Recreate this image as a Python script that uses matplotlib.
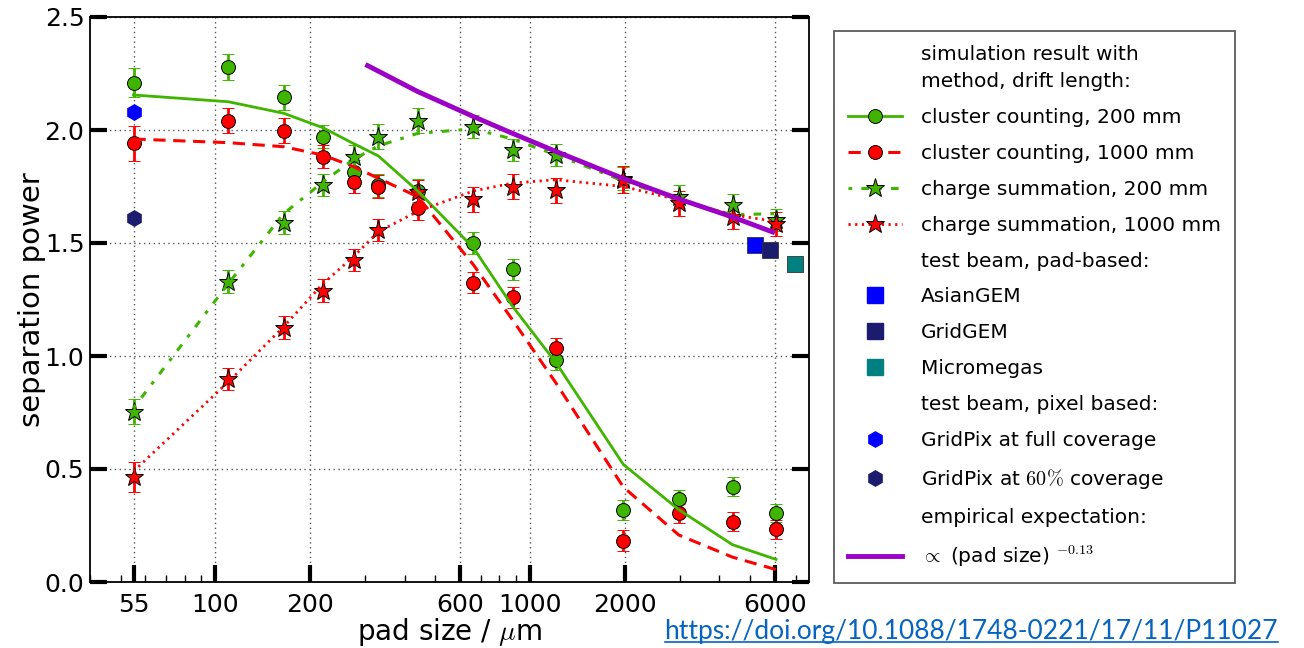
import matplotlib
matplotlib.use("Agg")
import matplotlib.pyplot as plt
from matplotlib.lines import Line2D
from matplotlib.ticker import FixedLocator, FixedFormatter, LogLocator, NullFormatter

plt.rcParams['font.family'] = 'DejaVu Sans'
plt.rcParams['mathtext.fontset'] = 'cm'

# pad sizes in um
pad = [55, 110, 165, 220, 275, 330, 440, 660, 880, 1210, 1980, 2970, 4400, 6050]

# simulated separation power with uncertainties
cc200 = [2.21, 2.28, 2.145, 1.97, 1.816, 1.755, 1.731, 1.499, 1.384, 0.982, 0.319, 0.366, 0.422, 0.304]
cc200_err = [0.065, 0.057, 0.055, 0.05, 0.05, 0.05, 0.05, 0.048, 0.046, 0.045, 0.045, 0.043, 0.042, 0.04]
cc1000 = [1.941, 2.041, 1.996, 1.882, 1.771, 1.749, 1.653, 1.324, 1.26, 1.034, 0.183, 0.304, 0.267, 0.233]
cc1000_err = [0.078, 0.055, 0.055, 0.05, 0.05, 0.05, 0.05, 0.047, 0.046, 0.045, 0.045, 0.043, 0.042, 0.042]
cs200 = [0.754, 1.329, 1.59, 1.757, 1.879, 1.97, 2.041, 2.015, 1.912, 1.889, 1.785, 1.705, 1.668, 1.602]
cs200_err = [0.057, 0.05, 0.05, 0.05, 0.055, 0.055, 0.055, 0.05, 0.05, 0.05, 0.05, 0.05, 0.05, 0.05]
cs1000 = [0.466, 0.898, 1.125, 1.289, 1.425, 1.558, 1.727, 1.693, 1.749, 1.733, 1.78, 1.676, 1.617, 1.584]
cs1000_err = [0.067, 0.05, 0.05, 0.05, 0.05, 0.05, 0.05, 0.055, 0.055, 0.055, 0.06, 0.055, 0.055, 0.055]

# simulation curves
cc200_fit = [2.155, 2.125, 2.074, 2.01, 1.94, 1.885, 1.73, 1.48, 1.22, 0.97, 0.52, 0.32, 0.165, 0.10]
cc1000_fit = [1.96, 1.944, 1.926, 1.889, 1.838, 1.786, 1.705, 1.405, 1.16, 0.88, 0.42, 0.208, 0.11, 0.055]
cs200_fit = [0.77, 1.32, 1.63, 1.77, 1.87, 1.93, 1.985, 2.005, 1.96, 1.89, 1.775, 1.69, 1.625, 1.63]
cs1000_fit = [0.49, 0.885, 1.13, 1.32, 1.44, 1.55, 1.64, 1.73, 1.765, 1.78, 1.75, 1.69, 1.625, 1.595]

# empirical expectation ~ (pad size)^-0.13
emp_x = [300, 440, 660, 880, 1210, 1980, 2970, 4400, 6000]
emp_y = [2.29, 2.17, 2.06, 1.985, 1.905, 1.785, 1.695, 1.615, 1.545]

# test beam results
tb_names = ['AsianGEM', 'GridGEM', 'Micromegas']
tb_x = [5200, 5800, 6970]
tb_y = [1.491, 1.469, 1.407]
tb_col = ['#0000ff', '#1c1c6e', '#008080']

gp_names = ['GridPix at full coverage', r'GridPix at $60\%$ coverage']
gp_x = [55, 55]
gp_y = [2.081, 1.609]
gp_col = ['#0000ff', '#1c1c6e']

green = '#3fb500'
red = '#ff0000'
purple = '#9c00c6'

xticks = [55, 100, 200, 600, 1000, 2000, 6000]

fig = plt.figure(figsize=(13.04, 6.48), dpi=100)
ax = fig.add_axes([90 / 1304, 66 / 648, 719 / 1304, 565 / 648])
ax.set_xscale('log')

ax.plot(pad, cc200_fit, color=green, lw=2, zorder=4)
ax.plot(pad, cc1000_fit, color=red, lw=2.2, dashes=(4, 2.5), zorder=4)
ax.plot(pad, cs200_fit, color=green, lw=2.2, dashes=(1.2, 3, 2.5, 3), zorder=4)
ax.plot(pad, cs1000_fit, color=red, lw=2, dashes=(0.8, 1.6), zorder=4)

ekw = dict(ls='none', elinewidth=2, capsize=4, capthick=1.5, mec='k', mew=0.7)
ax.errorbar(pad, cc200, yerr=cc200_err, marker='o', ms=10, color=green, mfc=green, zorder=2, **ekw)
ax.errorbar(pad, cc1000, yerr=cc1000_err, marker='o', ms=10, color=red, mfc=red, zorder=2, **ekw)
ax.errorbar(pad, cs200, yerr=cs200_err, marker='*', ms=14, color=green, mfc=green, zorder=3, **ekw)
ax.errorbar(pad, cs1000, yerr=cs1000_err, marker='*', ms=14, color=red, mfc=red, zorder=3, **ekw)

ax.plot(emp_x, emp_y, color=purple, lw=3.5, solid_capstyle='butt', zorder=5)

for x, y, c in zip(tb_x, tb_y, tb_col):
    ax.plot([x], [y], ls='none', marker='s', ms=11, color=c, mec='#333333', mew=0.6, zorder=6)
for x, y, c in zip(gp_x, gp_y, gp_col):
    ax.plot([x], [y], ls='none', marker='h', ms=11, color=c, mec=c, zorder=6)

ax.set_xlim(40, 7700)
ax.set_ylim(0, 2.5)
ax.xaxis.set_major_locator(FixedLocator(xticks))
ax.xaxis.set_major_formatter(FixedFormatter([str(t) for t in xticks]))
ax.xaxis.set_minor_locator(LogLocator(base=10, subs=range(2, 10)))
ax.xaxis.set_minor_formatter(NullFormatter())
ax.set_yticks([0, 0.5, 1.0, 1.5, 2.0, 2.5])
ax.set_yticklabels(['0.0', '0.5', '1.0', '1.5', '2.0', '2.5'])

ax.tick_params(which='major', direction='in', length=12, width=3, labelsize=18,
               left=True, right=True, top=False, bottom=True)
ax.tick_params(axis='x', which='major', pad=8)
ax.tick_params(axis='y', which='major', pad=4)
ax.tick_params(which='minor', direction='in', length=5, width=1, top=False)
ax.grid(True, which='major', color='#555555', ls=(0, (1, 2.5)), lw=1)
for s in ax.spines.values():
    s.set_linewidth(1.3)

ax.set_xlabel(r'pad size / $\mu$m', fontsize=20, labelpad=-1)
ax.set_ylabel('separation power', fontsize=21, labelpad=-1)

blank = dict(color='none')
handles = [
    Line2D([], [], **blank),
    Line2D([], [], color=green, lw=2, marker='o', ms=10, mfc=green, mec='k', mew=0.7),
    Line2D([], [], color=red, lw=2.2, dashes=(4, 2.5), marker='o', ms=10, mfc=red, mec='k', mew=0.7),
    Line2D([], [], color=green, lw=2.2, dashes=(1.2, 3, 2.5, 3), marker='*', ms=14, mfc=green, mec='k', mew=0.7),
    Line2D([], [], color=red, lw=2, dashes=(0.8, 1.6), marker='*', ms=14, mfc=red, mec='k', mew=0.7),
    Line2D([], [], **blank),
]
handles += [Line2D([], [], ls='none', marker='s', ms=11, color=c, mec=c) for c in tb_col]
handles += [Line2D([], [], **blank)]
handles += [Line2D([], [], ls='none', marker='h', ms=11, color=c, mec=c) for c in gp_col]
handles += [Line2D([], [], **blank), Line2D([], [], color=purple, lw=3.5)]

labels = ['simulation result with\nmethod, drift length:',
          'cluster counting, 200 mm', 'cluster counting, 1000 mm',
          'charge summation, 200 mm', 'charge summation, 1000 mm',
          'test beam, pad-based:'] + tb_names + ['test beam, pixel based:'] + gp_names + \
         ['empirical expectation:', r'$\propto$ (pad size) $^{-0.13}$']

leg = fig.legend(handles, labels, loc='upper left', bbox_to_anchor=(834 / 1304, 1 - 31 / 648),
                 fontsize=14.5, frameon=True, fancybox=False, edgecolor='#333333',
                 borderpad=0.68, labelspacing=0.84, handlelength=2.7, handletextpad=0.95,
                 borderaxespad=0, numpoints=1)
leg.get_frame().set_linewidth(1.3)
leg.get_texts()[0].set_linespacing(1.55)

link = fig.text(1278 / 1304, 1 - 632 / 648, 'https://doi.org/10.1088/1748-0221/17/11/P11027',
                ha='right', va='center', fontsize=19, color='#0563c1', family='Lato')
fig.canvas.draw()
bb = link.get_window_extent().transformed(fig.transFigure.inverted())
fig.add_artist(Line2D([bb.x0, bb.x1], [bb.y0 + 0.004, bb.y0 + 0.004], color='#0563c1', lw=1.2,
                      transform=fig.transFigure))

fig.savefig('out.png', dpi=100)
